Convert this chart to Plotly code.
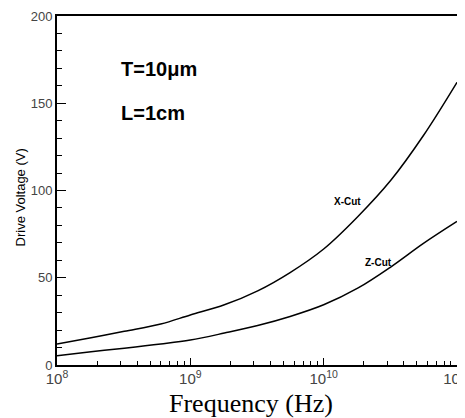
import plotly.graph_objects as go

freq_hz = [1e8, 1.8e8, 3.2e8, 6e8, 1e9, 1.8e9, 3.2e9, 5.6e9, 1e10, 1.8e10, 3.2e10, 5.6e10, 1e11]
x_cut_v = [12.0, 15.6, 19.3, 23.5, 28.7, 34.5, 42.5, 53.0, 66.5, 85.0, 106.0, 131.5, 162.0]
z_cut_v = [5.3, 7.6, 9.6, 12.0, 14.3, 18.3, 22.6, 27.8, 34.5, 44.0, 56.3, 69.7, 82.3]

y_ticks = [0, 50, 100, 150, 200]

line_style = dict(color='black', width=1.5)
fig = go.Figure()
fig.add_trace(go.Scatter(x=freq_hz, y=x_cut_v, mode='lines', line=line_style, line_shape='spline', name='X-Cut'))
fig.add_trace(go.Scatter(x=freq_hz, y=z_cut_v, mode='lines', line=line_style, line_shape='spline', name='Z-Cut'))

# curve labels
fig.add_annotation(x=10.18, y=93.5, text='<b>X-Cut</b>', showarrow=False, font=dict(size=10, color='black'))
fig.add_annotation(x=10.41, y=58.5, text='<b>Z-Cut</b>', showarrow=False, font=dict(size=10, color='black'))

# device parameters
fig.add_annotation(xref='paper', yref='paper', x=0.155, y=0.848, text='<b>T=10μm</b>', showarrow=False,
                   xanchor='left', yanchor='middle', font=dict(size=20, color='black'))
fig.add_annotation(xref='paper', yref='paper', x=0.155, y=0.722, text='<b>L=1cm</b>', showarrow=False,
                   xanchor='left', yanchor='middle', font=dict(size=20, color='black'))

# axis titles
fig.add_annotation(xref='paper', yref='paper', x=-0.0925, y=0.48, text='Drive Voltage (V)', showarrow=False,
                   textangle=-90, xanchor='center', yanchor='middle', font=dict(size=13, color='black'))
fig.add_annotation(xref='paper', yref='paper', x=0.485, y=-0.109, text='Frequency (Hz)', showarrow=False,
                   xanchor='center', yanchor='middle',
                   font=dict(family='Liberation Serif, Times New Roman', size=26, color='black'))

# page body keeps its 8px margin, so the figure is 8px smaller and margins shifted
fig.update_layout(
    width=457,
    height=410,
    margin=dict(l=49, r=8, t=8, b=53),
    showlegend=False,
    plot_bgcolor='white',
    paper_bgcolor='white',
    font=dict(family='Liberation Sans, Arial', color='black'),
    xaxis=dict(type='log', range=[8, 11], dtick=1, exponentformat='power', showgrid=False, automargin=False,
               showline=True, linecolor='black', linewidth=2, mirror=True, ticklabeloverflow='allow',
               ticks='inside', ticklen=7, tickwidth=1, tickcolor='black',
               tickfont=dict(size=12, color='#444'),
               minor=dict(ticks='inside', ticklen=4, tickcolor='black', showgrid=False)),
    yaxis=dict(range=[0, 200], tickvals=y_ticks, showgrid=False, zeroline=False, automargin=False,
               showline=True, linecolor='black', linewidth=2, mirror=True,
               ticks='inside', ticklen=9, tickwidth=1, tickcolor='black',
               tickfont=dict(size=13, color='#444'),
               minor=dict(ticks='inside', ticklen=5, dtick=10, tickcolor='black', showgrid=False)),
)

fig.write_html("out.html")
